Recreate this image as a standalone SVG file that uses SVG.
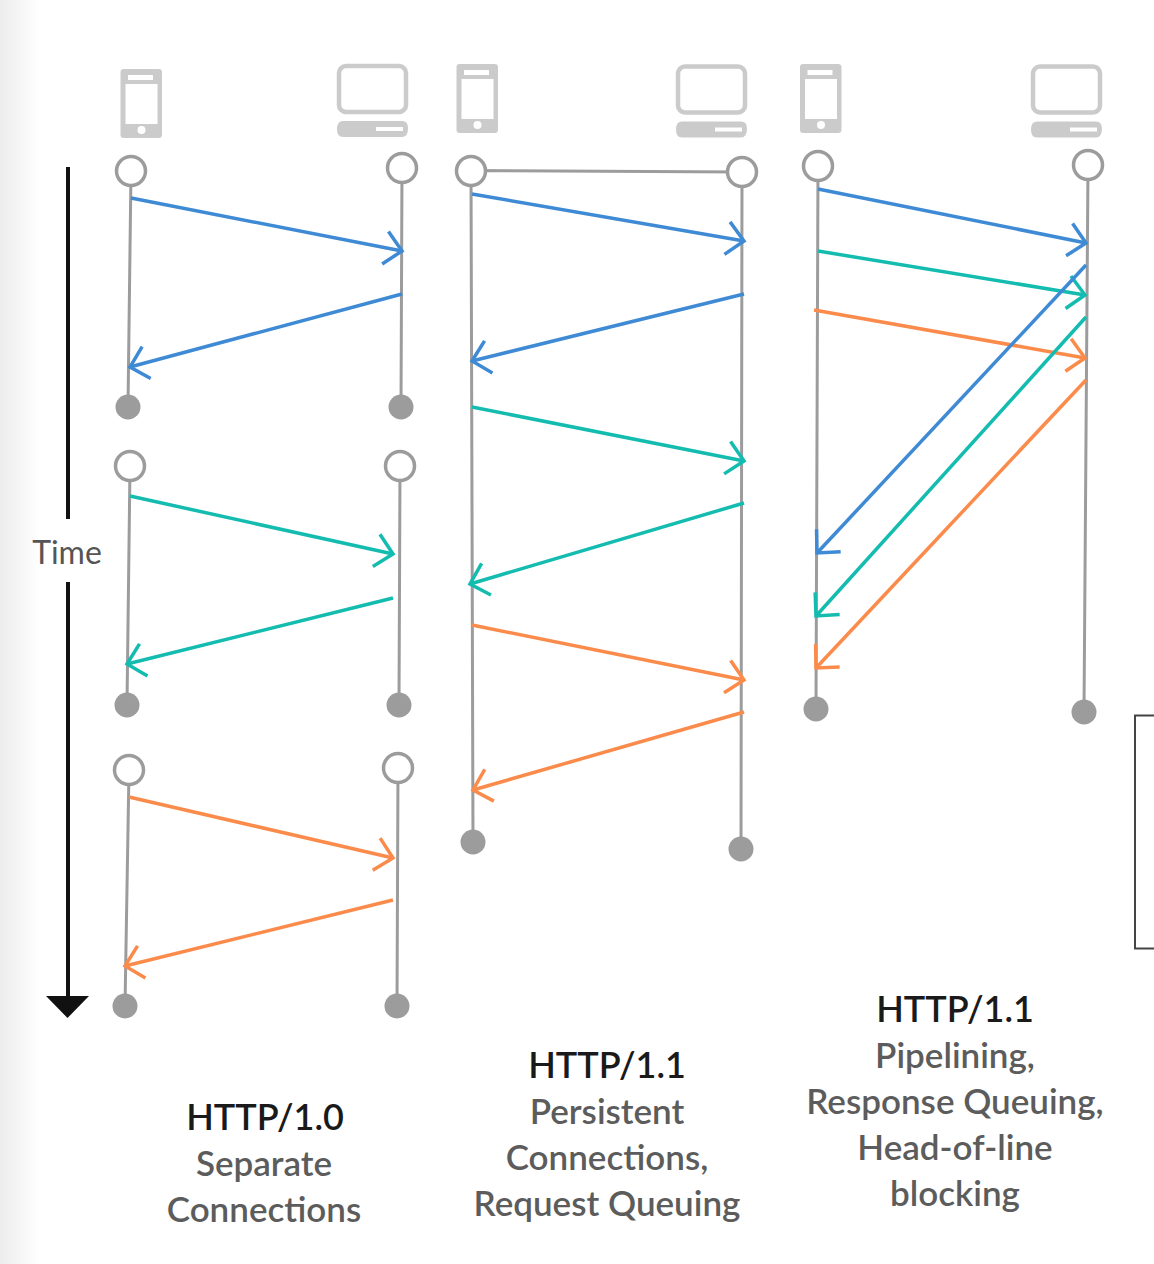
<svg xmlns="http://www.w3.org/2000/svg" xmlns:xlink="http://www.w3.org/1999/xlink" width="1154" height="1264" viewBox="0 0 1154 1264">
<style>
text{font-family:"Lato","Liberation Sans",sans-serif;text-anchor:middle}
.t{font-size:36px;font-weight:600;fill:#1a1a1a}
.s{font-size:35px;font-weight:600;fill:#5c5c5c}
.life{stroke:#9c9c9c;stroke-width:3;fill:none}
.open{fill:#fff;stroke:#9c9c9c;stroke-width:3.5}
.end{fill:#9c9c9c}
.msg{fill:none;stroke-width:3.5}
.blue{stroke:#3f8ad4;marker-end:url(#hb)}
.teal{stroke:#14bcb0;marker-end:url(#ht)}
.orange{stroke:#fb8b4b;marker-end:url(#ho)}
.dev{fill:#cbcbcb}
</style>
<defs>
<linearGradient id="edge" x1="0" x2="1" y1="0" y2="0"><stop offset="0" stop-color="#ececec"/><stop offset="1" stop-color="#fff"/></linearGradient>
<marker id="hb" markerUnits="userSpaceOnUse" markerWidth="30" markerHeight="40" refX="20" refY="20" orient="auto"><path d="M3 3.500L20 20L3 36.500" fill="none" stroke="#3f8ad4" stroke-width="3.500"/></marker>
<marker id="ht" markerUnits="userSpaceOnUse" markerWidth="30" markerHeight="40" refX="20" refY="20" orient="auto"><path d="M3 3.500L20 20L3 36.500" fill="none" stroke="#14bcb0" stroke-width="3.500"/></marker>
<marker id="ho" markerUnits="userSpaceOnUse" markerWidth="30" markerHeight="40" refX="20" refY="20" orient="auto"><path d="M3 3.500L20 20L3 36.500" fill="none" stroke="#fb8b4b" stroke-width="3.500"/></marker>
<g id="phone"><path class="dev" fill-rule="evenodd" d="M3 0H38Q41.500 0 41.500 3V66Q41.500 69 38 69H3Q0 69 0 66V3Q0 0 3 0ZM7.500 6V11H32.500V6ZM5 15V55H37V15ZM21 57A4 4 0 1 0 21 65A4 4 0 1 0 21 57Z"/></g>
<g id="pc"><rect x="2" y="2" width="67" height="46" rx="7" fill="#fff" stroke="#cbcbcb" stroke-width="4.500"/><path class="dev" fill-rule="evenodd" d="M6 57H65Q71 57 71 64Q71 73 65 73H6Q0 73 0 65Q0 57 6 57ZM39 63V67H66V63Z"/></g>
</defs>
<rect width="1154" height="1264" fill="#fff"/>
<rect width="40" height="1264" fill="url(#edge)"/>
<rect id="box" x="1135" y="715.500" width="30" height="233" fill="#fff" stroke="#444" stroke-width="2"/>
<g id="time-axis">
<path d="M68 167V519M68 582V998" stroke="#111" stroke-width="4" fill="none"/>
<path d="M46 996H89L67.500 1018Z" fill="#111"/>
<text x="67" y="564" font-size="32" fill="#555" style="font-weight:400">Time</text>
</g>
<g id="devices">
<use href="#phone" x="120.500" y="69"/><use href="#pc" x="337" y="64"/>
<use href="#phone" x="456.500" y="64"/><use href="#pc" x="676" y="64.500"/>
<use href="#phone" x="800" y="64"/><use href="#pc" x="1031" y="64.500"/>
</g>
<g id="connectors">
<path class="life" d="M131 171L128 407M402 168L401 407M130 466L127 705M400 466L399 705M129 770L125 1006M398 768L397 1006"/>
<path class="life" d="M471 171L473 842M742 172L741 849M471 170.500L742 172"/>
<path class="life" d="M818 166L816 709M1088 165L1084 712"/>
<path class="msg blue" d="M131 198L402 251"/><path class="msg blue" d="M402 294L130 367"/>
<path class="msg teal" d="M130 496L393 554"/><path class="msg teal" d="M393 598L127 664"/>
<path class="msg orange" d="M129 797L393 858"/><path class="msg orange" d="M393 900L125 966"/>
<path class="msg blue" d="M472 194L744 241"/><path class="msg blue" d="M744 294L472 361"/>
<path class="msg teal" d="M472 407L744 461"/><path class="msg teal" d="M744 503L470 584"/>
<path class="msg orange" d="M472 625L744 680"/><path class="msg orange" d="M744 712L473 790"/>
<path class="msg blue" d="M818 189L1086 243"/><path class="msg teal" d="M818 251L1085 295"/><path class="msg orange" d="M814 310L1085 358"/>
<path class="msg blue" d="M1086 265L817 553"/><path class="msg teal" d="M1086 317L816 616"/><path class="msg orange" d="M1086 380L816 668"/>
</g>
<g id="http10-client-1"><circle class="open" cx="131" cy="171" r="14.500"/><circle class="end" cx="128" cy="407" r="12.500"/></g>
<g id="http10-server-1"><circle class="open" cx="402" cy="168" r="14.500"/><circle class="end" cx="401" cy="407" r="12.500"/></g>
<g id="http10-client-2"><circle class="open" cx="130" cy="466" r="14.500"/><circle class="end" cx="127" cy="705" r="12.500"/></g>
<g id="http10-server-2"><circle class="open" cx="400" cy="466" r="14.500"/><circle class="end" cx="399" cy="705" r="12.500"/></g>
<g id="http10-client-3"><circle class="open" cx="129" cy="770" r="14.500"/><circle class="end" cx="125" cy="1006" r="12.500"/></g>
<g id="http10-server-3"><circle class="open" cx="398" cy="768" r="14.500"/><circle class="end" cx="397" cy="1006" r="12.500"/></g>
<g id="persistent-client"><circle class="open" cx="471" cy="171" r="14.500"/><circle class="end" cx="473" cy="842" r="12.500"/></g>
<g id="persistent-server"><circle class="open" cx="742" cy="172" r="14.500"/><circle class="end" cx="741" cy="849" r="12.500"/></g>
<g id="pipeline-client"><circle class="open" cx="818" cy="166" r="14.500"/><circle class="end" cx="816" cy="709" r="12.500"/></g>
<g id="pipeline-server"><circle class="open" cx="1088" cy="165" r="14.500"/><circle class="end" cx="1084" cy="712" r="12.500"/></g>
<g id="label-http10"><text class="t" x="265" y="1130">HTTP/1.0</text><text class="s" x="264" y="1176">Separate</text><text class="s" x="264" y="1222">Connections</text></g>
<g id="label-persistent"><text class="t" x="607" y="1078">HTTP/1.1</text><text class="s" x="607" y="1124">Persistent</text><text class="s" x="607" y="1170">Connections,</text><text class="s" x="607" y="1216">Request Queuing</text></g>
<g id="label-pipelining"><text class="t" x="955" y="1022">HTTP/1.1</text><text class="s" x="955" y="1068">Pipelining,</text><text class="s" x="955" y="1114">Response Queuing,</text><text class="s" x="955" y="1160">Head-of-line</text><text class="s" x="955" y="1206">blocking</text></g>
</svg>
